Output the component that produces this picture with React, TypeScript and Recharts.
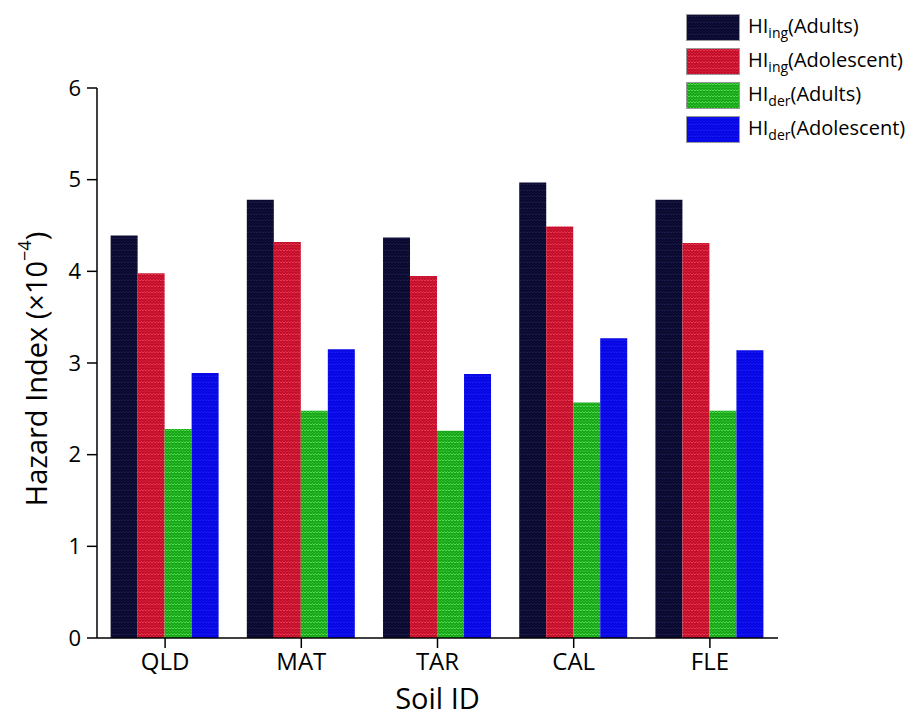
import { BarChart, Bar, XAxis, YAxis } from 'recharts';

const categories = ['QLD', 'MAT', 'TAR', 'CAL', 'FLE'];
const hiIngAdults = [4.39, 4.78, 4.37, 4.97, 4.78];
const hiIngAdolescent = [3.98, 4.32, 3.95, 4.49, 4.31];
const hiDerAdults = [2.28, 2.48, 2.26, 2.57, 2.48];
const hiDerAdolescent = [2.89, 3.15, 2.88, 3.27, 3.14];
const yTicks = [0, 1, 2, 3, 4, 5, 6];

const data = categories.map((soil, i) => ({
  soil,
  ingAdults: hiIngAdults[i],
  ingAdolescent: hiIngAdolescent[i],
  derAdults: hiDerAdults[i],
  derAdolescent: hiDerAdolescent[i],
}));

const FONT = '"Open Sans", "Noto Sans", sans-serif';

const series = [
  { key: 'ingAdults', pat: 'Dark', sub: 'ing', tail: '(Adults)' },
  { key: 'ingAdolescent', pat: 'Red', sub: 'ing', tail: '(Adolescent)' },
  { key: 'derAdults', pat: 'Green', sub: 'der', tail: '(Adults)' },
  { key: 'derAdolescent', pat: 'Blue', sub: 'der', tail: '(Adolescent)' },
];

const patColors: Record<string, [string, string]> = {
  ingAdults: ['#0a0a2e', '#1c1c50'],
  ingAdolescent: ['#c4102c', '#e8384e'],
  derAdults: ['#1aa81a', '#4fdc4f'],
  derAdolescent: ['#0707e6', '#1a1af2'],
};

function Pattern({ id, kind }: { id: string; kind: string }) {
  const [base, line] = patColors[kind];
  return (
    <pattern id={id} width={6} height={6} patternUnits="userSpaceOnUse">
      <rect width={6} height={6} fill={base} />
      <path d="M0 3 L1.5 1.5 L3 3 L4.5 1.5 L6 3" stroke={line} strokeWidth={1} fill="none" />
      <path d="M0 6 L1.5 4.5 L3 6 L4.5 4.5 L6 6" stroke={line} strokeWidth={0.6} fill="none" opacity={0.6} />
    </pattern>
  );
}

// hand-made legend, so the subscripts come out right
function LegendBox() {
  return (
    <div style={{ position: 'absolute', top: 2, left: 678, fontFamily: FONT, fontSize: 20, color: '#000' }}>
      {series.map((s) => (
        <div key={s.key} style={{ display: 'flex', alignItems: 'center', height: 34 }}>
          <svg width={54} height={27} style={{ marginRight: 8 }}>
            <defs>
              <Pattern id={'leg' + s.pat} kind={s.key} />
            </defs>
            <rect x={0.5} y={0.5} width={53} height={26} fill={`url(#leg${s.pat})`} stroke="#999" strokeWidth={1} />
          </svg>
          <span>
            HI
            <sub style={{ fontSize: 14, verticalAlign: '-5px' }}>{s.sub}</sub>
            {s.tail}
          </span>
        </div>
      ))}
    </div>
  );
}

function YLabel({ viewBox }: any) {
  const cx = 27;
  const cy = viewBox.y + viewBox.height / 2 + 6;
  return (
    <text
      x={cx}
      y={cy}
      transform={`rotate(-90 ${cx} ${cy})`}
      textAnchor="middle"
      dominantBaseline="central"
      fontFamily={FONT}
      fontSize={29}
      fontWeight={500}
      fill="#000"
    >
      Hazard Index (×10
      <tspan dy={-11} fontSize={18}>−4</tspan>
      <tspan dy={11}>)</tspan>
    </text>
  );
}

export default function App() {
  return (
    <div style={{ position: 'relative', width: 901, height: 705 }}>
      <BarChart
        width={901}
        height={705}
        data={data}
        margin={{ top: 80, right: 131, bottom: 0, left: 0 }}
        barCategoryGap="10%"
        barGap={0}
      >
        <defs>
          {series.map((s) => (
            <Pattern key={s.key} id={'pat' + s.pat} kind={s.key} />
          ))}
        </defs>
        <XAxis
          dataKey="soil"
          height={75}
          axisLine={{ stroke: '#000', strokeWidth: 1.5 }}
          tickLine={{ stroke: '#000', strokeWidth: 1.5 }}
          tickSize={10}
          tickMargin={5}
          tick={{ fill: '#000', fontSize: 24, fontWeight: 500, fontFamily: FONT }}
        />
        <YAxis
          width={89}
          domain={[0, 6]}
          ticks={yTicks}
          axisLine={{ stroke: '#000', strokeWidth: 1.5 }}
          tickLine={{ stroke: '#000', strokeWidth: 1.5 }}
          tickSize={10}
          tickMargin={6}
          tick={{ fill: '#000', fontSize: 22, fontWeight: 500, fontFamily: FONT }}
          label={<YLabel />}
        />
        {series.map((s) => (
          <Bar key={s.key} dataKey={s.key} fill={`url(#pat${s.pat})`} isAnimationActive={false} />
        ))}
      </BarChart>
      <LegendBox />
      <div
        style={{
          position: 'absolute',
          left: 89,
          width: 681,
          top: 675,
          textAlign: 'center',
          fontFamily: FONT,
          fontSize: 29,
          lineHeight: '29px',
          color: '#000',
        }}
      >
        Soil ID
      </div>
    </div>
  );
}
